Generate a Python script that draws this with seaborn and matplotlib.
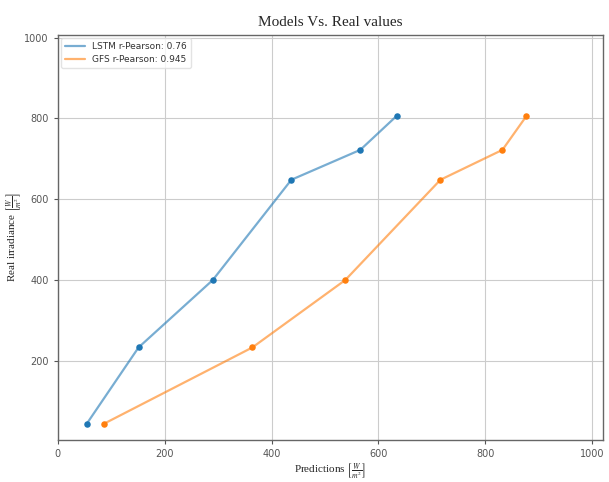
import matplotlib
matplotlib.use("Agg")
import matplotlib.pyplot as plt
import seaborn as sns
import pandas as pd

real = [44, 233, 400, 648, 722, 806]
lstm_pred = [54, 151, 290, 437, 566, 634]
gfs_pred = [86, 364, 538, 716, 832, 877]
labels = ["LSTM r-Pearson: 0.76", "GFS r-Pearson: 0.945"]
colors = ["#1f77b4", "#ff7f0e"]

sns.set_style("ticks")
plt.rcParams['mathtext.fontset'] = 'stix'

fig, ax = plt.subplots(figsize=(6.09, 4.82), dpi=100)
fig.subplots_adjust(left=0.095, right=0.99, top=0.928, bottom=0.088)

for pred, lab, c in zip([lstm_pred, gfs_pred], labels, colors):
    df = pd.DataFrame({"pred": pred, "real": real})
    sns.lineplot(data=df, x="pred", y="real", ax=ax, color=c, alpha=0.6, lw=1.6,
                 label=lab, sort=False)
    sns.scatterplot(data=df, x="pred", y="real", ax=ax, color=c, s=22, linewidth=0,
                    zorder=3)

ax.set_xlim(0, 1020)
ax.set_ylim(5, 1007)
ax.set_xticks([0, 200, 400, 600, 800, 1000])
ax.set_yticks([200, 400, 600, 800, 1000])
ax.grid(True, color="#cccccc", lw=0.8)
ax.tick_params(labelsize=7, colors="#555555", length=3, width=0.8)
for s in ax.spines.values():
    s.set_color("#666666")
    s.set_linewidth(1.0)

ax.set_title("Models Vs. Real values", family="Liberation Serif", fontsize=11)
ax.set_xlabel(r"Predictions $\left[\frac{W}{m^2}\right]$", family="Liberation Serif",
              fontsize=8, labelpad=2)
ax.set_ylabel(r"Real irradiance $\left[\frac{W}{m^2}\right]$", family="Liberation Serif",
              fontsize=8)
ax.yaxis.set_label_coords(-0.06, 0.5)

leg = ax.legend(loc="upper left", fontsize=6.5, frameon=True, handlelength=2.2,
                borderaxespad=0.4)
leg.get_frame().set_edgecolor("#dddddd")
for t in leg.get_texts():
    t.set_color("#333333")

fig.savefig("out.png", dpi=100)
